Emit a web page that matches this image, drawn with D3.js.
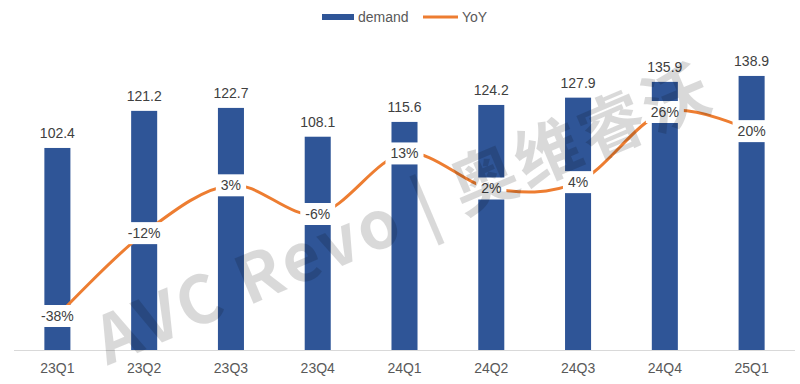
<!DOCTYPE html>
<html>
<head>
<meta charset="utf-8">
<script src="https://cdn.jsdelivr.net/npm/d3@7"></script>
<style>
  body { margin: 0; background: #fff; }
  text { font-family: Arial, "Liberation Sans", sans-serif; }
</style>
</head>
<body>
<script>
var quarters = ['23Q1', '23Q2', '23Q3', '23Q4', '24Q1', '24Q2', '24Q3', '24Q4', '25Q1']
var demand = [102.4, 121.2, 122.7, 108.1, 115.6, 124.2, 127.9, 135.9, 138.9]
var yoy = [-38, -12, 3, -6, 13, 2, 4, 26, 20]

var width = 800
var height = 384
var baseY = 350

var x = d3.scaleBand().domain(quarters).range([14, 795])
  .paddingInner(0.7).paddingOuter(0.35)
var y = d3.scaleLinear().domain([0, 160]).range([baseY, baseY - 160 * 1.973])
var y2 = d3.scaleLinear().domain([-38, 26]).range([316, 112])
var cx = d => x(d) + x.bandwidth() / 2

var svg = d3.select('body').append('svg')
  .attr('width', width)
  .attr('height', height)

// bars
svg.selectAll('rect.bar')
  .data(quarters)
  .enter().append('rect')
  .attr('class', 'bar')
  .attr('x', d => x(d))
  .attr('width', x.bandwidth())
  .attr('y', (d, i) => y(demand[i]))
  .attr('height', (d, i) => baseY - y(demand[i]))
  .attr('fill', '#2F5597')

// axis line + labels
svg.append('line')
  .attr('x1', 14).attr('x2', 795)
  .attr('y1', baseY + 0.5).attr('y2', baseY + 0.5)
  .attr('stroke', '#d9d9d9')

svg.selectAll('text.xlab')
  .data(quarters)
  .enter().append('text')
  .attr('class', 'xlab')
  .attr('x', cx)
  .attr('y', 373)
  .attr('text-anchor', 'middle')
  .attr('font-size', 14)
  .attr('fill', '#595959')
  .text(d => d)

// value labels
svg.selectAll('text.val')
  .data(quarters)
  .enter().append('text')
  .attr('class', 'val')
  .attr('x', cx)
  .attr('y', (d, i) => y(demand[i]) - 10)
  .attr('text-anchor', 'middle')
  .attr('font-size', 14)
  .attr('fill', '#404040')
  .text((d, i) => demand[i].toFixed(1))

// yoy line
var line = d3.line()
  .x((d, i) => cx(quarters[i]))
  .y(d => y2(d))
  .curve(d3.curveCardinal)

svg.append('path')
  .datum(yoy)
  .attr('d', line)
  .attr('fill', 'none')
  .attr('stroke', '#ED7D31')
  .attr('stroke-width', 3)

// yoy labels with white boxes
var lab = svg.selectAll('g.yoy')
  .data(yoy)
  .enter().append('g')
  .attr('class', 'yoy')
  .attr('transform', (d, i) => `translate(${cx(quarters[i])}, ${y2(d)})`)

lab.append('text')
  .attr('text-anchor', 'middle')
  .attr('dy', '0.35em')
  .attr('font-size', 14)
  .attr('fill', '#404040')
  .text(d => d + '%')

lab.each(function () {
  var g = d3.select(this)
  var bb = g.select('text').node().getBBox()
  g.insert('rect', 'text')
    .attr('x', bb.x - 5)
    .attr('y', -11)
    .attr('width', bb.width + 10)
    .attr('height', 22)
    .attr('fill', '#fff')
})

// legend
var legend = svg.append('g')
legend.append('rect')
  .attr('x', 322).attr('y', 14)
  .attr('width', 32).attr('height', 6)
  .attr('fill', '#2F5597')
legend.append('text')
  .attr('x', 358).attr('y', 22)
  .attr('font-size', 14).attr('fill', '#595959')
  .text('demand')
legend.append('line')
  .attr('x1', 423).attr('x2', 458)
  .attr('y1', 17).attr('y2', 17)
  .attr('stroke', '#ED7D31').attr('stroke-width', 3)
legend.append('text')
  .attr('x', 462).attr('y', 22)
  .attr('font-size', 14).attr('fill', '#595959')
  .text('YoY')

// watermark
svg.append('text')
  .attr('transform', 'translate(400, 210) rotate(-23)')
  .attr('text-anchor', 'middle')
  .attr('dominant-baseline', 'central')
  .attr('font-size', 66)
  .attr('font-weight', 'bold')
  .attr('fill', '#000')
  .attr('fill-opacity', 0.15)
  .attr('textLength', 660)
  .style('font-family', '"Noto Sans CJK SC", Arial, sans-serif')
  .text('AVC Revo | 奥维睿沃')
</script>
</body>
</html>
